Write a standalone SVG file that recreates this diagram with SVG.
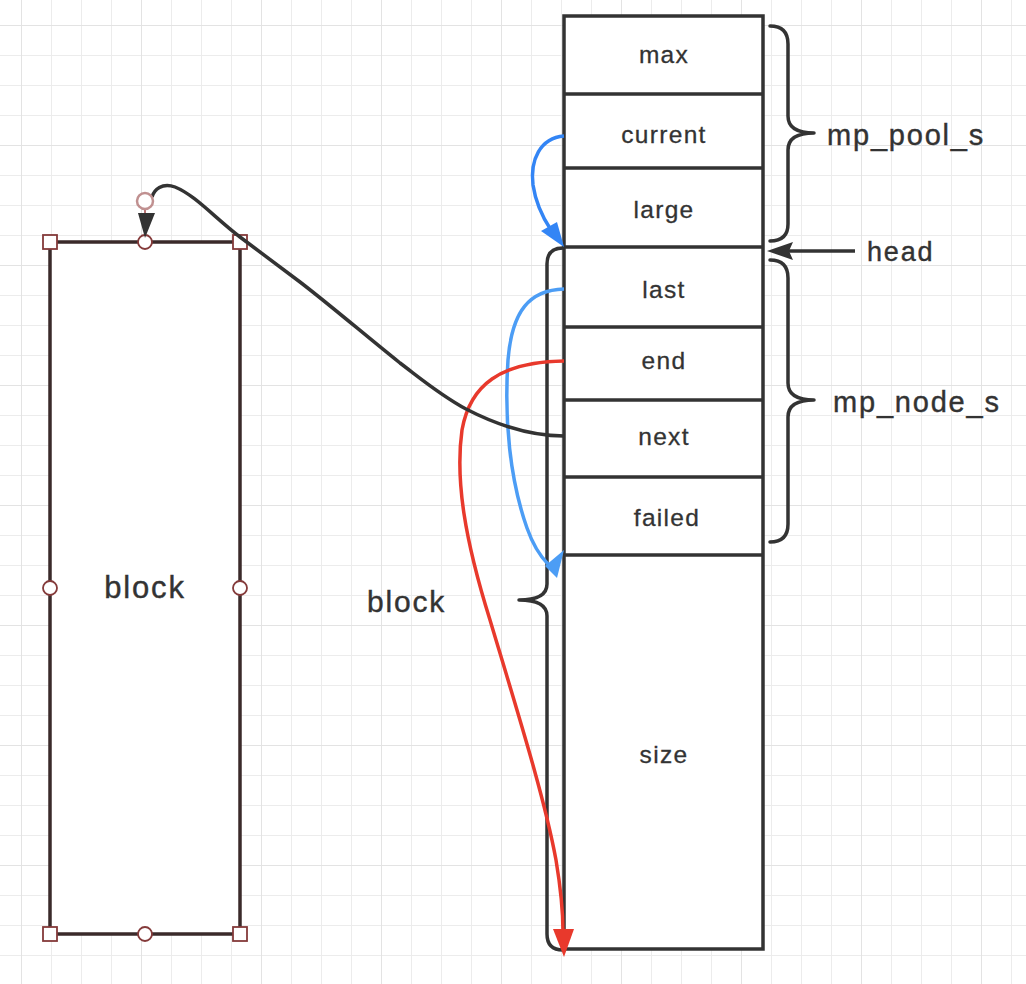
<svg xmlns="http://www.w3.org/2000/svg" width="1026" height="984" viewBox="0 0 1026 984">
<defs>
<pattern id="minor" patternUnits="userSpaceOnUse" x="21" y="25" width="30" height="30">
<path d="M0,0 H30 M0,0 V30" stroke="#ececec" stroke-width="2" fill="none"/>
</pattern>
<pattern id="major" patternUnits="userSpaceOnUse" x="21" y="25" width="120" height="120">
<path d="M0,0 H120 M0,0 V120" stroke="#e3e3e3" stroke-width="2" fill="none"/>
</pattern>
<style>
.cell{fill:#fff;stroke:#333;stroke-width:3.5}
.row{stroke:#333;stroke-width:3.5;fill:none}
.lbl{font-family:"Liberation Sans",Arial,sans-serif;font-size:24.5px;fill:#333;text-anchor:middle;letter-spacing:1.3px;stroke:#333;stroke-width:0.3}
.big{font-family:"Liberation Sans",Arial,sans-serif;fill:#333;letter-spacing:1.8px;stroke:#333;stroke-width:0.4}
.brace{fill:none;stroke:#333;stroke-width:3.5;stroke-linecap:round;stroke-linejoin:round}
.handle{fill:#fff;stroke:#843a3a;stroke-width:1.8}
</style>
</defs>
<rect width="1026" height="984" fill="#fff"/>
<rect width="1026" height="984" fill="url(#minor)"/>
<rect width="1026" height="984" fill="url(#major)"/>

<g id="left-block">
<rect x="50" y="242" width="190" height="692" fill="#fff" stroke="#3a2a2a" stroke-width="3.5"/>
<text class="big" x="145" y="598" font-size="31" text-anchor="middle">block</text>
<rect class="handle" x="43" y="235" width="14" height="14"/>
<rect class="handle" x="233" y="235" width="14" height="14"/>
<rect class="handle" x="43" y="927" width="14" height="14"/>
<rect class="handle" x="233" y="927" width="14" height="14"/>
<circle class="handle" cx="145" cy="242" r="7"/>
<circle class="handle" cx="145" cy="934" r="7"/>
<circle class="handle" cx="50" cy="588" r="7"/>
<circle class="handle" cx="240" cy="588" r="7"/>
</g>

<g id="column">
<rect class="cell" x="564" y="16" width="199" height="933"/>
<path class="row" d="M564,94 H763 M564,168 H763 M564,247 H763 M564,327 H763 M564,400 H763 M564,477 H763 M564,555 H763"/>
</g>
<g id="max"><text class="lbl" x="664" y="63">max</text></g>
<g id="current"><text class="lbl" x="664" y="143">current</text></g>
<g id="large"><text class="lbl" x="664" y="218">large</text></g>
<g id="last"><text class="lbl" x="664" y="298">last</text></g>
<g id="end"><text class="lbl" x="664" y="369">end</text></g>
<g id="next"><text class="lbl" x="664" y="445">next</text></g>
<g id="failed"><text class="lbl" x="667" y="526">failed</text></g>
<g id="size"><text class="lbl" x="664" y="763">size</text></g>

<g id="brace-pool">
<path class="brace" d="M770,26 Q788,26 788,44 L788,116 Q788,133 814,133 Q788,133 788,150 L788,224 Q788,241 770,241"/>
<text class="big" x="827" y="145" font-size="29">mp_pool_s</text>
</g>
<g id="brace-node">
<path class="brace" d="M770,260 Q788,260 788,278 L788,383 Q788,400 814,400 Q788,400 788,417 L788,524 Q788,542 770,542"/>
<text class="big" x="833" y="412" font-size="29">mp_node_s</text>
</g>
<g id="brace-block">
<path class="brace" d="M563,248 Q547,248 547,264 L547,584 Q547,600 519,600 Q547,600 547,616 L547,934 Q547,950 563,950"/>
<text class="big" x="367" y="612" font-size="30">block</text>
</g>
<g id="head">
<text class="big" x="867" y="261" font-size="27">head</text>
</g>

<g id="connectors">
<path d="M855,251 H788" stroke="#333" stroke-width="3.5" fill="none"/>
<path d="M767,251 L793,242 L789,251 L793,260 Z" fill="#333"/>

<path d="M564,136 C 540,138 530,160 533,185 C 536,205 543,218 551,230" stroke="#3385f5" stroke-width="3.5" fill="none"/>
<path d="M564,247 L541,231 L557,222 Z" fill="#3385f5"/>

<path d="M564,289 C 530,290 512,310 508,360 C 504,420 510,480 527,528 C 533,545 540,556 548,564" stroke="#4c9df5" stroke-width="3.5" fill="none"/>
<path d="M564,550 L545,566 L557,578 Z" fill="#4c9df5"/>

<path d="M564,361 C 500,362 470,385 462,430 C 455,480 465,540 490,620 C 520,720 545,800 556,860 C 561,890 563,910 563,932" stroke="#e8392c" stroke-width="3.5" fill="none"/>
<path d="M564,957 L553,929 L574,929 Z" fill="#e8392c"/>

<path d="M564,436 C 530,436 495,424 466,409 C 440,395 420,378 400,363 C 365,335 330,305 300,282 C 280,267 260,252 240,237 C 215,218 195,195 175,187 C 162,182 154,190 152,197" stroke="#333" stroke-width="3.5" fill="none"/>
<path d="M145,209 V215" stroke="#a04545" stroke-width="1.5"/>
<path d="M145,238 L138,213 L155,213 Z" fill="#333"/>
<circle cx="145" cy="201" r="8" fill="#fff" stroke="#c09090" stroke-width="2.5"/>
</g>
</svg>
